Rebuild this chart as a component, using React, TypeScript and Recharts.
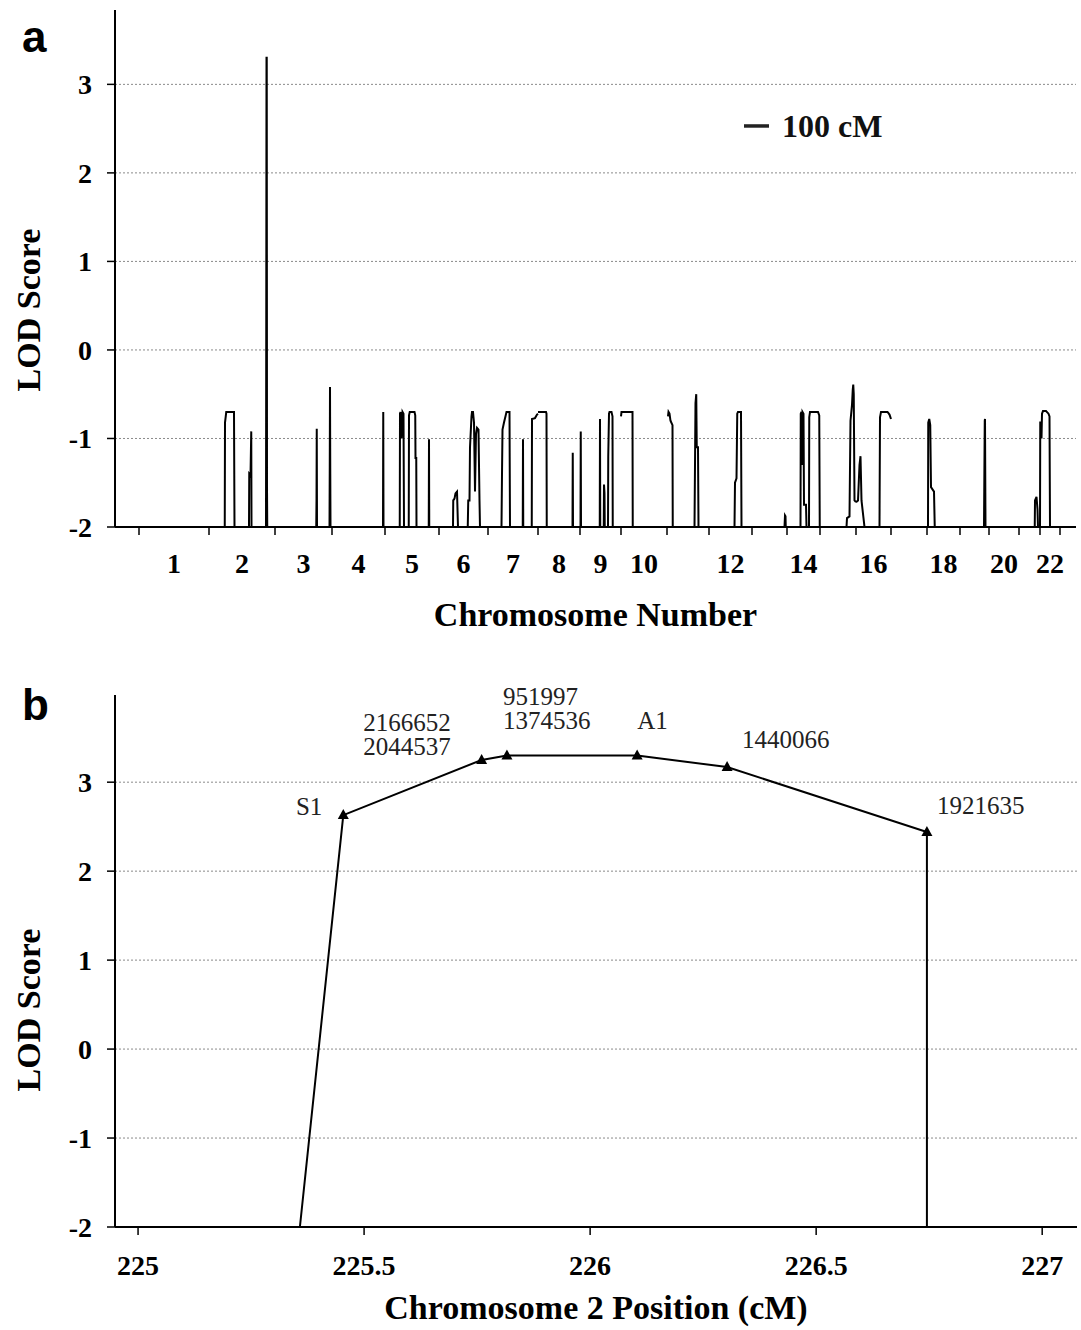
import React from 'react';
import { LineChart, Line, XAxis, YAxis, ReferenceLine, Label } from 'recharts';

// genome scan (panel a)
const chromosomes = ['1', '2', '3', '4', '5', '6', '7', '8', '9', '10', '11', '12', '13', '14', '15', '16', '17', '18', '19', '20', '21', '22'];
const chromLengthsCM = [280, 264, 228, 212, 216, 196, 200, 168, 164, 184, 168, 172, 140, 132, 144, 140, 144, 132, 116, 120, 84, 80];
const labeledChromosomes = ['1', '2', '3', '4', '5', '6', '7', '8', '9', '10', '12', '14', '16', '18', '20', '22'];

// [position within chromosome (cM), LOD] - LOD is floored at -2
const scanPeaks: number[][][] = [
  [],
  [[63, -2], [64, -0.82], [67, -0.75], [69, -0.7], [100, -0.7], [102, -2], [160, -2], [161, -1.4], [166, -1.42], [169, -0.92], [170, -2], [228, -2], [229, 0.3], [230, 3.3], [231, 3.3], [232, -1.55], [233, -2]],
  [[165, -2], [166, -1.7], [167, -0.89], [168, -2], [218, -2], [219, -1.33], [220, -0.42], [221, -1.33], [222, -2]],
  [[204, -2], [205, -0.7], [206, -2]],
  [[59, -2], [60, -0.72], [62, -0.7], [66, -1.0], [70, -0.7], [74, -0.72], [76, -2], [95, -2], [96, -0.74], [99, -0.7], [118, -0.7], [121, -0.74], [122, -1.22], [125, -1.22], [126, -2], [175, -2], [176, -1.01], [177, -2]],
  [[56, -2], [57, -1.7], [62, -1.68], [66, -1.62], [72, -1.6], [76, -2], [115, -2], [117, -1.7], [122, -1.7], [124, -1.1], [130, -0.75], [132, -0.7], [136, -0.7], [140, -0.82], [144, -1.6], [148, -0.95], [152, -0.88], [158, -0.9], [162, -1.7], [164, -2]],
  [[54, -2], [56, -1.4], [58, -0.9], [64, -0.82], [70, -0.75], [74, -0.7], [86, -0.7], [88, -2], [139, -2], [140, -1.01], [141, -2], [175, -2], [176, -0.78], [188, -0.77], [196, -0.73], [200, -0.72]],
  [[0, -0.7], [32, -0.7], [34, -0.72], [35, -2], [138, -2], [139, -1.16], [140, -2]],
  [[2, -2], [3, -0.92], [4, -2], [79, -2], [80, -0.78], [81, -2], [95, -2], [96, -1.52], [98, -1.62], [99, -2], [112, -2], [113, -1.2], [116, -0.72], [118, -0.7], [126, -0.7], [130, -0.75], [131, -2]],
  [[0, -0.75], [2, -0.7], [46, -0.7], [47, -2]],
  [[4, -0.75], [6, -0.7], [10, -0.72], [14, -0.8], [22, -0.85], [23, -2], [110, -2], [112, -1.3], [114, -0.6], [117, -0.5], [119, -1.1], [124, -1.1], [126, -2]],
  [[102, -2], [104, -1.5], [110, -1.45], [113, -0.72], [116, -0.7], [128, -0.7], [130, -2]],
  [[130, -2], [132, -1.87], [134, -1.88], [135, -2]],
  [[54, -2], [55, -0.72], [58, -0.7], [60, -1.3], [62, -0.7], [66, -0.72], [68, -1.75], [76, -1.75], [78, -2], [88, -2], [89, -0.76], [92, -0.7], [124, -0.7], [129, -0.74], [131, -2]],
  [[106, -2], [108, -1.9], [118, -1.88], [122, -0.8], [128, -0.62], [131, -0.45], [133, -0.39], [135, -0.5], [138, -1.7], [144, -1.72]],
  [[0, -1.72], [8, -1.7], [14, -1.3], [18, -1.2], [22, -1.7], [30, -1.9], [34, -2], [94, -2], [96, -0.76], [100, -0.7], [126, -0.7], [134, -0.73], [140, -0.78]],
  [],
  [[4, -2], [5, -0.82], [9, -0.78], [13, -0.85], [16, -1.55], [28, -1.6], [31, -2]],
  [[96, -2], [99, -0.8], [100, -0.78], [102, -2]],
  [],
  [[63, -2], [64, -1.7], [70, -1.66], [74, -1.8], [76, -2]],
  [[0, -2], [1, -0.82], [4, -0.82], [6, -1.0], [8, -0.72], [12, -0.69], [24, -0.69], [34, -0.72], [38, -0.75], [40, -2]],
];

const lodTicks = [-2, -1, 0, 1, 2, 3];
const gridValues = [-1, 0, 1, 2, 3];

// fine map of chromosome 2 (panel b)
const fineMapPositions = [225.358, 225.454, 225.76, 225.816, 226.104, 226.303, 226.745, 226.745];
const fineMapLods = [-2, 2.63, 3.25, 3.3, 3.3, 3.17, 2.44, -2];
const fineMapMarkers: string[][] = [[], ['S1'], ['2166652', '2044537'], ['951997', '1374536'], ['A1'], ['1440066'], ['1921635'], []];
const fineMapTicks = [225, 225.5, 226, 226.5, 227];

// label placement relative to the marker (px)
const markerLabelOffsets = [
  null,
  { dx: -21, dy: 0, anchor: 'end' },
  { dx: -31, dy: -29, anchor: 'end' },
  { dx: -4, dy: -50, anchor: 'start' },
  { dx: 0, dy: -26, anchor: 'start' },
  { dx: 15, dy: -19, anchor: 'start' },
  { dx: 10, dy: -18, anchor: 'start' },
  null,
];

const serif = "'Liberation Serif', 'Times New Roman', serif";
const tickStyle = { fontFamily: serif, fontSize: 28, fontWeight: 700, fill: '#000' };
const gridStroke = '#8a8a8a';

const chromStarts: number[] = [];
chromLengthsCM.forEach((len, i) => chromStarts.push(i === 0 ? 0 : chromStarts[i - 1] + chromLengthsCM[i - 1]));
const genomeEnd = chromStarts[chromStarts.length - 1] + chromLengthsCM[chromLengthsCM.length - 1];

const scanData: { pos: number; lod: number | null }[] = [];
chromLengthsCM.forEach((len, i) => {
  const pts = scanPeaks[i];
  const start = chromStarts[i];
  if (!pts.length || pts[0][1] === -2) scanData.push({ pos: start, lod: -2 });
  pts.forEach(([p, l]) => scanData.push({ pos: start + p, lod: l }));
  if (!pts.length || pts[pts.length - 1][1] === -2) scanData.push({ pos: start + len, lod: -2 });
  scanData.push({ pos: start + len, lod: null });
});

const boundaryTicks = [...chromStarts, genomeEnd];
const centerLabels = new Map<number, string>();
chromosomes.forEach((c, i) => {
  if (labeledChromosomes.includes(c)) centerLabels.set(chromStarts[i] + chromLengthsCM[i] / 2, c);
});
const chromTicks = [...boundaryTicks, ...centerLabels.keys()].sort((a, b) => a - b);

const fineMapData = fineMapPositions.map((pos, i) => ({ pos, lod: fineMapLods[i], markers: fineMapMarkers[i], idx: i }));

function ChromTick(props: any) {
  const { x, y, payload } = props;
  const label = centerLabels.get(payload.value);
  if (label) {
    return (
      <text x={x} y={y + 38} textAnchor="middle" {...tickStyle}>
        {label}
      </text>
    );
  }
  return <line x1={x} y1={y - 8} x2={x} y2={y} stroke="#000" strokeWidth={1.5} />;
}

function MarkerDot(props: any) {
  const { cx, cy, payload, index } = props;
  const names: string[] = payload.markers;
  const place = markerLabelOffsets[payload.idx];
  if (!names.length || !place) return <g key={index} />;
  return (
    <g key={index}>
      <path d={`M${cx},${cy - 6} L${cx + 5.5},${cy + 4} L${cx - 5.5},${cy + 4} Z`} fill="#000" />
      <text x={cx + place.dx} y={cy + place.dy} textAnchor={place.anchor as any} fontFamily={serif} fontSize={25} fill="#222">
        {names.map((n, k) => (
          <tspan key={n} x={cx + place.dx} dy={k === 0 ? 0 : 24}>
            {n}
          </tspan>
        ))}
      </text>
    </g>
  );
}

function yTitle(cy: number) {
  return () => (
    <text x={28} y={cy} transform={`rotate(-90 28 ${cy})`} textAnchor="middle" dominantBaseline="central" fontFamily={serif} fontSize={34} fontWeight={700} fill="#000">
      LOD Score
    </text>
  );
}

export default function App() {
  return (
    <div style={{ position: 'absolute', left: 0, top: 0, width: 1081, height: 1330, background: '#fff' }}>
      <LineChart width={1081} height={637} data={scanData} margin={{ top: 10, right: 5, bottom: 0, left: 0 }}>
        {gridValues.map((v) => (
          <ReferenceLine key={v} y={v} stroke={gridStroke} strokeDasharray="2 2" />
        ))}
        <XAxis
          type="number"
          dataKey="pos"
          domain={[-96, 3748]}
          ticks={chromTicks}
          interval={0}
          allowDataOverflow
          height={110}
          tickSize={8}
          tickMargin={0}
          tickLine={false}
          tick={(p: any) => <ChromTick {...p} />}
          axisLine={{ stroke: '#000', strokeWidth: 2 }}
        >
          <Label value="Chromosome Number" position="insideBottom" offset={11} fontFamily={serif} fontSize={34} fontWeight={700} fill="#000" />
        </XAxis>
        <YAxis
          type="number"
          domain={[-2, 3.84]}
          ticks={lodTicks}
          allowDataOverflow
          width={115}
          tickSize={8}
          tickMargin={15}
          tick={tickStyle}
          tickLine={{ stroke: '#000', strokeWidth: 1.5 }}
          axisLine={{ stroke: '#000', strokeWidth: 2 }}
        >
          <Label content={yTitle(310)} />
        </YAxis>
        <ReferenceLine
          segment={[{ x: 2420, y: 2.53 }, { x: 2520, y: 2.53 }]}
          stroke="#222"
          strokeWidth={3.5}
          label={{ value: '100 cM', position: 'right', offset: 13, fontFamily: serif, fontSize: 32, fontWeight: 700, fill: '#111' }}
        />
        <Line type="linear" dataKey="lod" stroke="#000" strokeWidth={2} dot={false} connectNulls={false} isAnimationActive={false} />
      </LineChart>

      <div style={{ position: 'absolute', left: 0, top: 637 }}>
        <LineChart width={1081} height={690} data={fineMapData} margin={{ top: 58, right: 4, bottom: 0, left: 0 }}>
          {gridValues.map((v) => (
            <ReferenceLine key={v} y={v} stroke={gridStroke} strokeDasharray="2 2" />
          ))}
          <XAxis
            type="number"
            dataKey="pos"
            domain={[224.949, 227.077]}
            ticks={fineMapTicks}
            interval={0}
            height={100}
            tickSize={8}
            tickMargin={20}
            tick={tickStyle}
            tickLine={{ stroke: '#000', strokeWidth: 1.5 }}
            axisLine={{ stroke: '#000', strokeWidth: 2 }}
          >
            <Label value="Chromosome 2 Position (cM)" position="insideBottom" offset={8} fontFamily={serif} fontSize={34} fontWeight={700} fill="#000" />
          </XAxis>
          <YAxis
            type="number"
            domain={[-2, 3.98]}
            ticks={lodTicks}
            width={115}
            tickSize={8}
            tickMargin={15}
            tick={tickStyle}
            tickLine={{ stroke: '#000', strokeWidth: 1.5 }}
            axisLine={{ stroke: '#000', strokeWidth: 2 }}
          >
            <Label content={yTitle(373)} />
          </YAxis>
          <Line type="linear" dataKey="lod" stroke="#000" strokeWidth={2} dot={(p: any) => <MarkerDot {...p} />} isAnimationActive={false} />
        </LineChart>
      </div>

      <svg width={1081} height={1330} style={{ position: 'absolute', left: 0, top: 0, pointerEvents: 'none' }}>
        <text x={22} y={52} fontFamily="'Liberation Sans', Arial, sans-serif" fontSize={44} fontWeight={700} fill="#000">
          a
        </text>
        <text x={22} y={720} fontFamily="'Liberation Sans', Arial, sans-serif" fontSize={44} fontWeight={700} fill="#000">
          b
        </text>
      </svg>
    </div>
  );
}
